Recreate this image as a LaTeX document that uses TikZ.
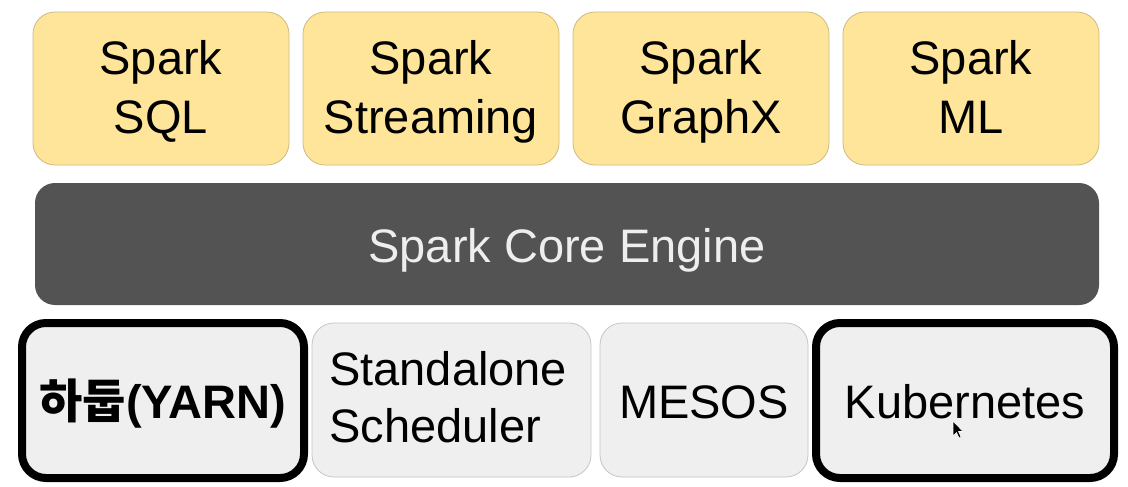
\documentclass[tikz,border=0pt]{standalone}
\usepackage{fontspec}
\setmainfont{Liberation Sans}
\newfontfamily\krfont{Noto Sans CJK KR}
\definecolor{ylw}{HTML}{FFE599}
\definecolor{ylwline}{HTML}{CDBB82}
\definecolor{lgray}{HTML}{EFEFEF}
\definecolor{lgline}{HTML}{C6C6C6}
\definecolor{dgray}{HTML}{535353}
\definecolor{coretext}{HTML}{EEEEEE}
\begin{document}
\begin{tikzpicture}[x=1pt,y=-1pt,
  box/.style={rounded corners=22pt, inner sep=0pt},
  lib/.style={box, fill=ylw, draw=ylwline, line width=0.8pt, minimum width=256pt, minimum height=153pt},
  core/.style={box, fill=dgray, draw=none, minimum width=1064pt, minimum height=122pt, rounded corners=20pt},
  mgr/.style={box, fill=lgray, draw=lgline, line width=0.8pt, minimum height=154pt},
  hot/.style={box, fill=lgray, draw=black, line width=8pt, minimum height=155pt, rounded corners=24pt},
  txt/.style={anchor=base, inner sep=0pt, font=\fontsize{47}{57}\selectfont},
  txtl/.style={txt, anchor=base west}]
\useasboundingbox (0,0) rectangle (1128,487);
\fill[white] (0,0) rectangle (1128,487);
% library boxes
\node[lib] (sql) at (161,88.5) {};
\node[lib] (stream) at (431,88.5) {};
\node[lib] (graphx) at (701,88.5) {};
\node[lib] (ml) at (971,88.5) {};
\node[txt] (sql1) at (161,75) {Spark};
\node[txt] (sql2) at (161,133) {SQL};
\node[txt] (stream1) at (431,75) {Spark};
\node[txt] (stream2) at (431,133) {Streaming};
\node[txt] (graphx1) at (701,75) {Spark};
\node[txt] (graphx2) at (701,133) {GraphX};
\node[txt] (ml1) at (971,75) {Spark};
\node[txt] (ml2) at (971,133) {ML};
% core
\node[core] (engine) at (567,244) {};
\node[txt, text=coretext] (enginet) at (567,262) {Spark Core Engine};
% cluster managers
\node[hot, minimum width=282pt] (yarn) at (163,400.5) {};
\node[mgr, minimum width=279pt] (standalone) at (451.5,400) {};
\node[mgr, minimum width=208pt] (mesos) at (704,400) {};
\node[hot, minimum width=298pt] (k8s) at (965,400.5) {};
\node[txt] (yarnt) at (163,418) {\bfseries{\krfont 하둡}(YARN)};
\node[txtl] (standalone1) at (329,385) {Standalone};
\node[txtl] (standalone2) at (329,442) {Scheduler};
\node[txt] (mesost) at (704,418) {MESOS};
\node[txt] (k8st) at (965,418) {Kubernetes};
% mouse pointer
\filldraw[fill=black, draw=white, line width=0.6pt, line join=round]
  (953,421) -- (953,436) -- (956.5,432.5) -- (959,438) -- (961,437) -- (958.5,431.5) -- (963,431.5) -- cycle;
\end{tikzpicture}
\end{document}
